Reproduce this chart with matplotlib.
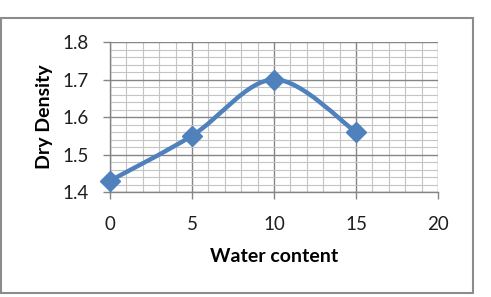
import numpy as np
import matplotlib
matplotlib.use('Agg')
import matplotlib.pyplot as plt
from matplotlib.path import Path
from matplotlib.patches import PathPatch, Rectangle
from matplotlib.ticker import MultipleLocator

# data
water_content = [0, 5, 10, 15]
dry_density = [1.43, 1.55, 1.70, 1.56]

x_ticks = [0, 5, 10, 15, 20]
y_ticks = [1.4, 1.5, 1.6, 1.7, 1.8]

BLUE = '#4F81BD'

plt.rcParams['font.family'] = ['Lato', 'DejaVu Sans']


def smooth_path(xs, ys):
    ''' Excel style smoothed line: cubic bezier through every point '''
    pts = np.column_stack([xs, ys]).astype(float)
    padded = np.vstack([pts[0], pts, pts[-1]])
    verts = [tuple(pts[0])]
    codes = [Path.MOVETO]
    for i in range(len(pts) - 1):
        p0, p1, p2, p3 = padded[i], padded[i + 1], padded[i + 2], padded[i + 3]
        c1 = p1 + (p2 - p0) / 6.0
        c2 = p2 - (p3 - p1) / 6.0
        verts += [tuple(c1), tuple(c2), tuple(p2)]
        codes += [Path.CURVE4] * 3
    return Path(verts, codes)


fig = plt.figure(figsize=(4.91, 2.97), dpi=100)
fig.patch.set_facecolor('white')

# outer chart border
fig.patches.append(Rectangle((0.003, 0.013), 0.96, 0.928, transform=fig.transFigure,
                             fill=False, edgecolor='#8c8c8c', linewidth=1.5))

ax = fig.add_axes([0.224, 0.3535, 0.668, 0.505])
ax.set_xlim(0, 20)
ax.set_ylim(1.4, 1.8)
ax.set_xticks(x_ticks)
ax.set_yticks(y_ticks)
ax.xaxis.set_minor_locator(MultipleLocator(1))
ax.yaxis.set_minor_locator(MultipleLocator(0.02))

ax.grid(which='major', color='#858585', linewidth=1.0)
ax.grid(which='minor', color='#c4c4c4', linewidth=0.8)
ax.set_axisbelow(True)

for side in ['top', 'right']:
    ax.spines[side].set_visible(False)
for side in ['left', 'bottom']:
    ax.spines[side].set_color('#858585')
    ax.spines[side].set_linewidth(1.0)

ax.tick_params(which='major', length=5, width=1.0, color='#858585',
               labelsize=13.5, labelcolor='#1e1e1e')
ax.tick_params(axis='y', pad=10)
ax.tick_params(axis='x', pad=12)
ax.tick_params(which='minor', length=0)
ax.set_yticklabels(['%.1f' % v for v in y_ticks])

ax.add_patch(PathPatch(smooth_path(water_content, dry_density), fill=False,
                       edgecolor=BLUE, linewidth=3.2, capstyle='round', zorder=3))
ax.plot(water_content, dry_density, linestyle='none', marker='D', markersize=10,
        color=BLUE, zorder=4, clip_on=False)

ax.set_xlabel('Water content', fontsize=14, fontweight='bold', labelpad=11)
ax.set_ylabel('Dry Density', fontsize=14, fontweight='bold', labelpad=7)

fig.savefig('out.png', dpi=100)
